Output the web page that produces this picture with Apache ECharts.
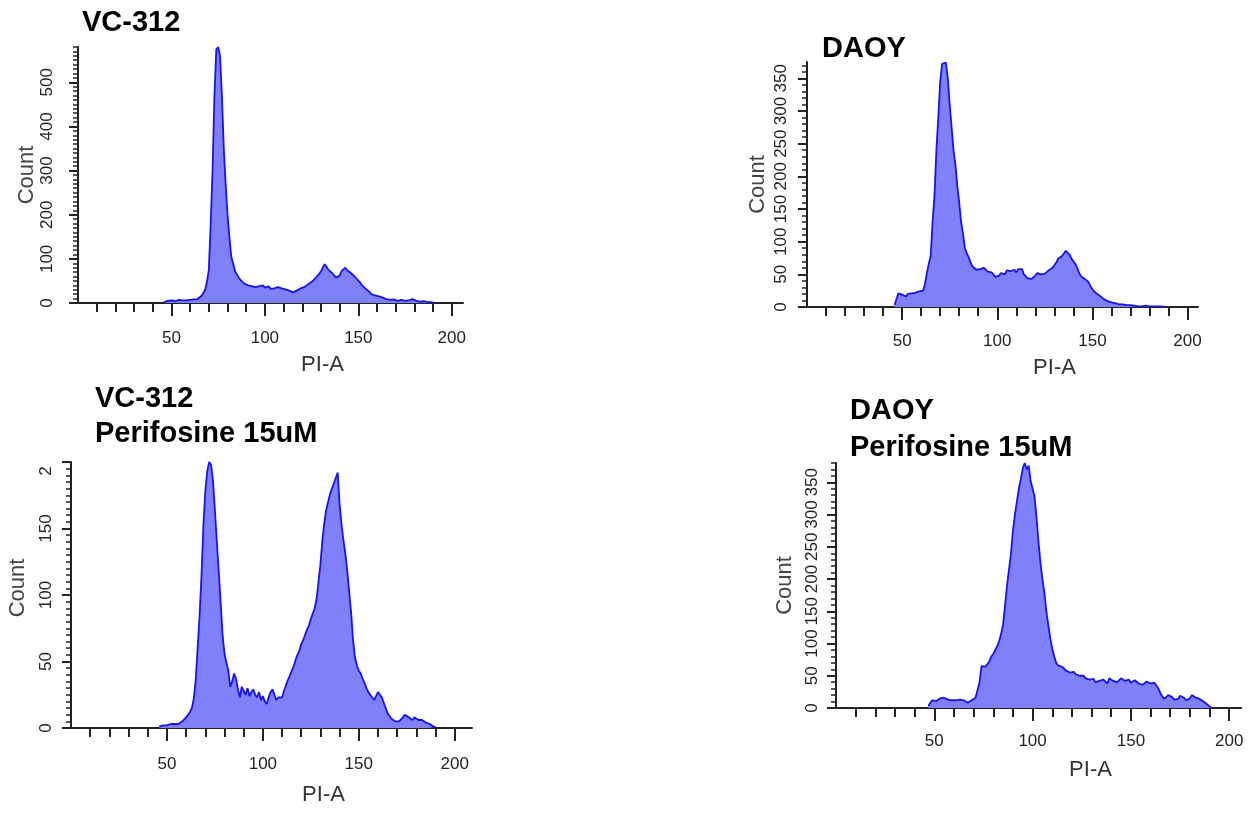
<!DOCTYPE html>
<html><head><meta charset="utf-8">
<script src="https://cdn.jsdelivr.net/npm/echarts@6/dist/echarts.min.js"></script>
<style>html,body{margin:0;padding:0;background:#fff}#c{width:1258px;height:815px}</style>
</head><body><div id="c"></div>
<script>
// ---------- DATA ----------
// PI-A bin of first value (bins are 1 PI-A unit wide)
const vc312Start = 46;
const vc312Counts = [2,4,5,4,6,5,4,6,7,5,6,8,6,5,7,6,8,7,9,11,16,22,30,48,75,180,300,470,575,580,560,470,350,270,200,150,105,90,72,65,58,52,50,44,47,40,36,38,34,36,33,38,36,40,35,34,38,32,35,33,34,36,32,33,34,31,30,28,26,24,23,28,30,33,34,36,40,42,46,48,52,56,60,66,72,80,88,82,75,78,68,64,58,55,62,72,76,80,74,70,68,64,60,55,52,46,40,36,32,28,25,20,18,17,16,15,13,12,10,9,8,7,9,8,6,5,8,7,6,5,4,6,8,9,7,5,4,3,3,4,3,2,2,2,1];
const daoyStart = 46;
const daoyCounts = [3,12,21,18,19,17,16,20,18,21,19,22,23,24,22,25,35,52,66,78,130,170,240,290,345,372,375,374,350,310,275,240,218,185,160,130,112,90,82,76,68,62,60,57,55,58,56,60,58,54,57,53,50,46,44,48,52,55,50,56,59,55,52,57,53,58,55,58,50,47,44,46,43,42,48,52,54,50,53,51,52,56,58,60,64,68,74,72,78,82,86,88,80,74,70,66,60,52,47,45,43,42,38,32,27,24,21,19,17,14,12,11,9,8,7,6,6,5,4,5,4,3,3,2,3,2,2,2,1,2,1,1,2,1,1,1,1,1,1,1,1,1,0];
const vc312PeriStart = 46;
const vc312PeriCounts = [1,1,2,1,2,2,3,2,3,4,3,4,5,6,8,10,12,15,22,36,60,84,114,152,178,193,200,198,186,164,140,118,94,70,56,49,43,31,35,41,37,29,23,31,28,25,30,24,27,29,25,23,27,21,24,20,18,23,27,29,25,21,23,22,23,28,32,36,39,43,46,51,55,58,63,66,70,74,77,82,86,90,97,110,123,141,154,164,170,176,180,184,188,192,168,153,141,131,118,102,87,66,53,47,43,41,37,34,30,27,25,23,21,22,27,26,23,19,15,11,9,7,6,5,4,5,6,8,10,11,8,7,6,8,7,6,7,6,5,4,5,3,2,1,1];
const daoyPeriStart = 47;
const daoyPeriCounts = [3,8,12,13,11,14,15,13,16,14,13,15,12,10,12,13,13,14,12,9,8,10,12,13,16,18,40,65,66,64,68,72,80,84,90,96,104,115,130,160,190,215,240,275,300,320,340,355,372,380,370,376,352,340,328,295,258,225,200,178,150,128,108,92,80,70,66,68,64,62,58,60,55,53,56,52,54,50,48,50,46,47,44,42,45,40,39,42,40,44,41,38,46,49,42,44,40,43,46,47,42,40,44,39,41,43,40,38,41,36,39,41,42,38,40,39,37,30,23,18,14,16,20,21,17,13,10,14,19,21,16,12,10,15,20,21,16,13,14,12,10,8,5,2,0];

// Titles and axis text
const panelTitles = ["VC-312", "DAOY", "VC-312\nPerifosine 15uM", "DAOY\nPerifosine 15uM"];
const xAxisName = "PI-A";
const yAxisName = "Count";
// Tick labels
const xTickLabels = [50, 100, 150, 200];
const vc312YLabels = [0, 100, 200, 300, 400, 500];
const daoyYLabels = [0, 50, 100, 150, 200, 250, 300, 350];
const vc312PeriYLabels = [0, 50, 100, 150, 200];
const daoyPeriYLabels = [0, 50, 100, 150, 200, 250, 300, 350];

// ---------- LAYOUT ----------
const panels = [
  {start: vc312Start, counts: vc312Counts, yLabels: vc312YLabels, title: panelTitles[0],
   grid: {left: 78, top: 47, width: 385, height: 256}, xMax: 206, yMax: 580, yMinor: 10,
   titlePos: {left: 82, top: 5, lh: 35}, yLabelMargin: 22, xLabelMargin: 27, xNameGap: 51, yNameGap: 36, yNamePad: 0},
  {start: daoyStart, counts: daoyCounts, yLabels: daoyYLabels, title: panelTitles[1],
   grid: {left: 807, top: 62, width: 391, height: 245}, xMax: 205.5, yMax: 375, yMinor: 10,
   titlePos: {left: 822, top: 31, lh: 35}, yLabelMargin: 17, xLabelMargin: 26, xNameGap: 50, yNameGap: 38, yNamePad: 0},
  {start: vc312PeriStart, counts: vc312PeriCounts, yLabels: vc312PeriYLabels, title: panelTitles[2],
   grid: {left: 71, top: 462, width: 401, height: 266}, xMax: 209, yMax: 200, yMinor: 5,
   titlePos: {left: 95, top: 381, lh: 35}, yLabelMargin: 16, xLabelMargin: 28, xNameGap: 56, yNameGap: 42, yNamePad: 14},
  {start: daoyPeriStart, counts: daoyPeriCounts, yLabels: daoyPeriYLabels, title: panelTitles[3],
   grid: {left: 836, top: 463, width: 405, height: 245}, xMax: 206, yMax: 380, yMinor: 10,
   titlePos: {left: 850, top: 392, lh: 37}, yLabelMargin: 15, xLabelMargin: 25, xNameGap: 51, yNameGap: 40, yNamePad: 0}
];

function steps(from, to, step) { const a = []; for (let v = from; v <= to + 1e-9; v += step) a.push(v); return a; }

const FONT = 'Liberation Sans, Arial, sans-serif';
const AX = '#222';
const option = {
  animation: false,
  backgroundColor: '#fff',
  title: [], grid: [], xAxis: [], yAxis: [], series: []
};

panels.forEach((p, i) => {
  option.grid.push(Object.assign({containLabel: false}, p.grid));
  option.title.push({
    text: p.title, left: p.titlePos.left, top: p.titlePos.top, padding: 0,
    textStyle: {fontFamily: FONT, fontSize: 29, fontWeight: 'bold', color: '#000', lineHeight: p.titlePos.lh}
  });
  const xMinorTicks = steps(10, 200, 10);
  option.xAxis.push({
    gridIndex: i, type: 'value', min: 0, max: p.xMax, position: 'bottom',
    axisLine: {show: true, onZero: false, lineStyle: {color: AX, width: 2}},
    axisTick: {show: true, customValues: xMinorTicks, length: 9, lineStyle: {color: AX, width: 2}},
    axisLabel: {customValues: xTickLabels, fontFamily: FONT, fontSize: 17, color: '#222', margin: p.xLabelMargin},
    splitLine: {show: false},
    name: xAxisName, nameLocation: 'middle', nameGap: p.xNameGap,
    nameTextStyle: {fontFamily: FONT, fontSize: 22, color: '#333', padding: [0, 0, 0, 104]}
  });
  option.xAxis.push({
    gridIndex: i, type: 'value', min: 0, max: p.xMax, position: 'bottom',
    axisLine: {show: false, onZero: false},
    axisTick: {show: true, customValues: xTickLabels, length: 13, lineStyle: {color: AX, width: 2}},
    axisLabel: {show: false}, splitLine: {show: false}
  });
  const yMinorTicks = steps(0, p.yMax, p.yMinor);
  option.yAxis.push({
    gridIndex: i, type: 'value', min: 0, max: p.yMax, position: 'left',
    axisLine: {show: true, onZero: false, lineStyle: {color: AX, width: 2}},
    axisTick: {show: true, customValues: yMinorTicks, length: 5, lineStyle: {color: AX, width: 1.5}},
    axisLabel: {customValues: p.yLabels, rotate: 90, fontFamily: FONT, fontSize: 17, color: '#222', margin: p.yLabelMargin,
      formatter: v => (i === 2 && v === 200) ? '{cut|2}' : String(v),
      rich: {cut: {fontFamily: FONT, fontSize: 17, color: '#222', padding: [0, 18, 0, 0]}}},
    splitLine: {show: false},
    name: yAxisName, nameLocation: 'middle', nameGap: p.yNameGap,
    nameTextStyle: {fontFamily: FONT, fontSize: 22, color: '#444', padding: [0, 0, 0, p.yNamePad]}
  });
  option.yAxis.push({
    gridIndex: i, type: 'value', min: 0, max: p.yMax, position: 'left',
    axisLine: {show: false, onZero: false},
    axisTick: {show: true, customValues: p.yLabels, length: 9, lineStyle: {color: AX, width: 2}},
    axisLabel: {show: false}, splitLine: {show: false}
  });
  option.series.push({
    type: 'line', xAxisIndex: 2 * i, yAxisIndex: 2 * i,
    data: p.counts.map((c, k) => [p.start + k, c]),
    showSymbol: false, symbol: 'none',
    lineStyle: {color: '#1414f0', width: 1.8},
    areaStyle: {color: '#8080fa', opacity: 1}
  });
});

const chart = echarts.init(document.getElementById('c'), null, {renderer: 'canvas'});
chart.setOption(option);
</script>
</body></html>
